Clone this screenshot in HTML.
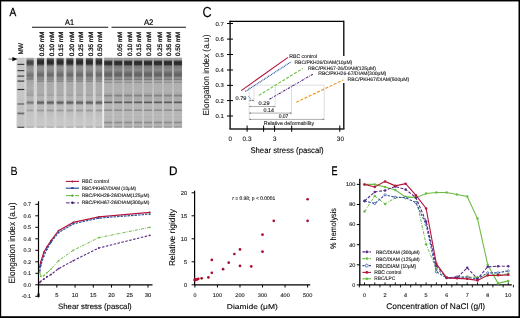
<!DOCTYPE html>
<html><head><meta charset="utf-8"><style>
html,body{margin:0;padding:0;background:#fff;}
svg{display:block;font-family:"Liberation Sans", sans-serif;will-change:transform;filter:blur(0.35px);text-rendering:geometricPrecision;}
</style></head><body>
<svg width="520" height="318" viewBox="0 0 520 318">
<rect x="0" y="0" width="520" height="318" fill="#fff"/>
<text x="9.52" y="16.45" font-size="11.636" textLength="6.75" lengthAdjust="spacingAndGlyphs" fill="#000"  stroke="#000" stroke-width="0.3">A</text>
<text x="65.08" y="24.70" font-size="8.145" textLength="8.97" lengthAdjust="spacingAndGlyphs" fill="#000"  stroke="#000" stroke-width="0.2">A1</text>
<text x="143.88" y="24.70" font-size="8.172" textLength="9.51" lengthAdjust="spacingAndGlyphs" fill="#000"  stroke="#000" stroke-width="0.2">A2</text>
<line x1="32.00" y1="27.30" x2="108.20" y2="27.30" stroke="#111" stroke-width="1.1" />
<line x1="111.50" y1="27.30" x2="185.90" y2="27.30" stroke="#111" stroke-width="1.1" />
<text transform="translate(43.99,56.30) rotate(-90)" x="0" y="0" font-size="6.360" textLength="24.68" lengthAdjust="spacingAndGlyphs" fill="#111"  stroke="#111" stroke-width="0.3">0.05 mM</text>
<text transform="translate(53.54,56.30) rotate(-90)" x="0" y="0" font-size="6.360" textLength="24.68" lengthAdjust="spacingAndGlyphs" fill="#111"  stroke="#111" stroke-width="0.3">0.10 mM</text>
<text transform="translate(63.34,56.30) rotate(-90)" x="0" y="0" font-size="6.360" textLength="24.68" lengthAdjust="spacingAndGlyphs" fill="#111"  stroke="#111" stroke-width="0.3">0.15 mM</text>
<text transform="translate(73.69,56.30) rotate(-90)" x="0" y="0" font-size="6.360" textLength="24.68" lengthAdjust="spacingAndGlyphs" fill="#111"  stroke="#111" stroke-width="0.3">0.20 mM</text>
<text transform="translate(83.04,56.30) rotate(-90)" x="0" y="0" font-size="6.360" textLength="24.68" lengthAdjust="spacingAndGlyphs" fill="#111"  stroke="#111" stroke-width="0.3">0.25 mM</text>
<text transform="translate(92.59,56.30) rotate(-90)" x="0" y="0" font-size="6.360" textLength="24.68" lengthAdjust="spacingAndGlyphs" fill="#111"  stroke="#111" stroke-width="0.3">0.35 mM</text>
<text transform="translate(102.39,56.30) rotate(-90)" x="0" y="0" font-size="6.360" textLength="24.68" lengthAdjust="spacingAndGlyphs" fill="#111"  stroke="#111" stroke-width="0.3">0.50 mM</text>
<text transform="translate(122.09,56.10) rotate(-90)" x="0" y="0" font-size="6.360" textLength="24.47" lengthAdjust="spacingAndGlyphs" fill="#111"  stroke="#111" stroke-width="0.3">0.05 mM</text>
<text transform="translate(131.69,56.10) rotate(-90)" x="0" y="0" font-size="6.360" textLength="24.47" lengthAdjust="spacingAndGlyphs" fill="#111"  stroke="#111" stroke-width="0.3">0.10 mM</text>
<text transform="translate(141.39,56.10) rotate(-90)" x="0" y="0" font-size="6.360" textLength="24.47" lengthAdjust="spacingAndGlyphs" fill="#111"  stroke="#111" stroke-width="0.3">0.15 mM</text>
<text transform="translate(151.49,56.10) rotate(-90)" x="0" y="0" font-size="6.360" textLength="24.47" lengthAdjust="spacingAndGlyphs" fill="#111"  stroke="#111" stroke-width="0.3">0.20 mM</text>
<text transform="translate(161.59,56.10) rotate(-90)" x="0" y="0" font-size="6.360" textLength="24.47" lengthAdjust="spacingAndGlyphs" fill="#111"  stroke="#111" stroke-width="0.3">0.25 mM</text>
<text transform="translate(170.79,56.10) rotate(-90)" x="0" y="0" font-size="6.360" textLength="24.47" lengthAdjust="spacingAndGlyphs" fill="#111"  stroke="#111" stroke-width="0.3">0.35 mM</text>
<text transform="translate(180.29,56.10) rotate(-90)" x="0" y="0" font-size="6.360" textLength="24.47" lengthAdjust="spacingAndGlyphs" fill="#111"  stroke="#111" stroke-width="0.3">0.50 mM</text>
<text transform="translate(23.07,54.40) rotate(-90)" x="0" y="0" font-size="6.764" textLength="11.41" lengthAdjust="spacingAndGlyphs" fill="#111"  stroke="#111" stroke-width="0.25">MW</text>
<defs>
<linearGradient id="g1" gradientUnits="userSpaceOnUse" x1="0" y1="57.8" x2="0" y2="127.7">
<stop offset="0.0000" stop-color="rgb(175,175,175)"/>
<stop offset="0.0100" stop-color="rgb(115,115,115)"/>
<stop offset="0.0315" stop-color="rgb(60,60,60)"/>
<stop offset="0.0601" stop-color="rgb(40,40,40)"/>
<stop offset="0.0887" stop-color="rgb(50,50,50)"/>
<stop offset="0.1102" stop-color="rgb(115,115,115)"/>
<stop offset="0.1316" stop-color="rgb(145,145,145)"/>
<stop offset="0.1745" stop-color="rgb(142,142,142)"/>
<stop offset="0.2031" stop-color="rgb(128,128,128)"/>
<stop offset="0.2318" stop-color="rgb(108,108,108)"/>
<stop offset="0.2604" stop-color="rgb(108,108,108)"/>
<stop offset="0.2790" stop-color="rgb(135,135,135)"/>
<stop offset="0.2933" stop-color="rgb(145,145,145)"/>
<stop offset="0.3033" stop-color="rgb(115,115,115)"/>
<stop offset="0.3176" stop-color="rgb(160,160,160)"/>
<stop offset="0.3362" stop-color="rgb(130,130,130)"/>
<stop offset="0.3534" stop-color="rgb(170,170,170)"/>
<stop offset="0.4320" stop-color="rgb(172,172,172)"/>
<stop offset="0.5179" stop-color="rgb(172,172,172)"/>
<stop offset="0.5365" stop-color="rgb(158,158,158)"/>
<stop offset="0.5536" stop-color="rgb(178,178,178)"/>
<stop offset="0.6037" stop-color="rgb(183,183,183)"/>
<stop offset="0.6252" stop-color="rgb(130,130,130)"/>
<stop offset="0.6438" stop-color="rgb(85,85,85)"/>
<stop offset="0.6609" stop-color="rgb(140,140,140)"/>
<stop offset="0.6753" stop-color="rgb(185,185,185)"/>
<stop offset="0.7325" stop-color="rgb(188,188,188)"/>
<stop offset="0.7539" stop-color="rgb(150,150,150)"/>
<stop offset="0.7754" stop-color="rgb(190,190,190)"/>
<stop offset="0.8898" stop-color="rgb(198,198,198)"/>
<stop offset="0.9757" stop-color="rgb(200,200,200)"/>
<stop offset="0.9900" stop-color="rgb(170,170,170)"/>
<stop offset="1.0000" stop-color="rgb(170,170,170)"/>
</linearGradient>
<linearGradient id="g0" gradientUnits="userSpaceOnUse" x1="0" y1="57.8" x2="0" y2="127.7">
<stop offset="0.0000" stop-color="rgb(190,190,190)"/>
<stop offset="0.0243" stop-color="rgb(140,140,140)"/>
<stop offset="0.0458" stop-color="rgb(80,80,80)"/>
<stop offset="0.0744" stop-color="rgb(65,65,65)"/>
<stop offset="0.1030" stop-color="rgb(95,95,95)"/>
<stop offset="0.1245" stop-color="rgb(145,145,145)"/>
<stop offset="0.1745" stop-color="rgb(155,155,155)"/>
<stop offset="0.2175" stop-color="rgb(130,130,130)"/>
<stop offset="0.2532" stop-color="rgb(115,115,115)"/>
<stop offset="0.2890" stop-color="rgb(140,140,140)"/>
<stop offset="0.3033" stop-color="rgb(120,120,120)"/>
<stop offset="0.3247" stop-color="rgb(165,165,165)"/>
<stop offset="0.4320" stop-color="rgb(175,175,175)"/>
<stop offset="0.5179" stop-color="rgb(165,165,165)"/>
<stop offset="0.5365" stop-color="rgb(155,155,155)"/>
<stop offset="0.5536" stop-color="rgb(178,178,178)"/>
<stop offset="0.6037" stop-color="rgb(185,185,185)"/>
<stop offset="0.6252" stop-color="rgb(150,150,150)"/>
<stop offset="0.6438" stop-color="rgb(110,110,110)"/>
<stop offset="0.6609" stop-color="rgb(160,160,160)"/>
<stop offset="0.6753" stop-color="rgb(190,190,190)"/>
<stop offset="0.7325" stop-color="rgb(190,190,190)"/>
<stop offset="0.7539" stop-color="rgb(160,160,160)"/>
<stop offset="0.7754" stop-color="rgb(195,195,195)"/>
<stop offset="0.9757" stop-color="rgb(200,200,200)"/>
<stop offset="0.9900" stop-color="rgb(170,170,170)"/>
<stop offset="1.0000" stop-color="rgb(170,170,170)"/>
</linearGradient>
<linearGradient id="g2" gradientUnits="userSpaceOnUse" x1="0" y1="57.8" x2="0" y2="127.7">
<stop offset="0.0000" stop-color="rgb(160,160,160)"/>
<stop offset="0.0215" stop-color="rgb(165,165,165)"/>
<stop offset="0.0358" stop-color="rgb(125,125,125)"/>
<stop offset="0.0486" stop-color="rgb(65,65,65)"/>
<stop offset="0.0672" stop-color="rgb(42,42,42)"/>
<stop offset="0.0959" stop-color="rgb(50,50,50)"/>
<stop offset="0.1173" stop-color="rgb(120,120,120)"/>
<stop offset="0.1745" stop-color="rgb(138,138,138)"/>
<stop offset="0.2031" stop-color="rgb(118,118,118)"/>
<stop offset="0.2318" stop-color="rgb(98,98,98)"/>
<stop offset="0.2604" stop-color="rgb(102,102,102)"/>
<stop offset="0.2818" stop-color="rgb(138,138,138)"/>
<stop offset="0.2961" stop-color="rgb(142,142,142)"/>
<stop offset="0.3076" stop-color="rgb(110,110,110)"/>
<stop offset="0.3205" stop-color="rgb(160,160,160)"/>
<stop offset="0.3391" stop-color="rgb(166,166,166)"/>
<stop offset="0.3505" stop-color="rgb(135,135,135)"/>
<stop offset="0.3634" stop-color="rgb(176,176,176)"/>
<stop offset="0.4893" stop-color="rgb(178,178,178)"/>
<stop offset="0.5250" stop-color="rgb(160,160,160)"/>
<stop offset="0.5422" stop-color="rgb(125,125,125)"/>
<stop offset="0.5608" stop-color="rgb(170,170,170)"/>
<stop offset="0.6180" stop-color="rgb(172,172,172)"/>
<stop offset="0.6366" stop-color="rgb(75,75,75)"/>
<stop offset="0.6538" stop-color="rgb(160,160,160)"/>
<stop offset="0.6681" stop-color="rgb(182,182,182)"/>
<stop offset="0.7325" stop-color="rgb(180,180,180)"/>
<stop offset="0.7511" stop-color="rgb(130,130,130)"/>
<stop offset="0.7682" stop-color="rgb(183,183,183)"/>
<stop offset="0.8326" stop-color="rgb(185,185,185)"/>
<stop offset="0.8469" stop-color="rgb(175,175,175)"/>
<stop offset="0.8612" stop-color="rgb(186,186,186)"/>
<stop offset="0.9041" stop-color="rgb(180,180,180)"/>
<stop offset="0.9256" stop-color="rgb(140,140,140)"/>
<stop offset="0.9471" stop-color="rgb(175,175,175)"/>
<stop offset="0.9614" stop-color="rgb(185,185,185)"/>
<stop offset="0.9757" stop-color="rgb(170,170,170)"/>
<stop offset="0.9900" stop-color="rgb(150,150,150)"/>
<stop offset="1.0000" stop-color="rgb(160,160,160)"/>
</linearGradient>
<linearGradient id="gmw" gradientUnits="userSpaceOnUse" x1="0" y1="57.8" x2="0" y2="127.7">
<stop offset="0.0000" stop-color="rgb(205,205,205)"/>
<stop offset="0.0787" stop-color="rgb(200,200,200)"/>
<stop offset="0.0944" stop-color="rgb(50,50,50)"/>
<stop offset="0.1102" stop-color="rgb(200,200,200)"/>
<stop offset="0.1674" stop-color="rgb(200,200,200)"/>
<stop offset="0.1831" stop-color="rgb(55,55,55)"/>
<stop offset="0.1989" stop-color="rgb(200,200,200)"/>
<stop offset="0.2461" stop-color="rgb(200,200,200)"/>
<stop offset="0.2618" stop-color="rgb(50,50,50)"/>
<stop offset="0.2775" stop-color="rgb(200,200,200)"/>
<stop offset="0.3176" stop-color="rgb(200,200,200)"/>
<stop offset="0.3333" stop-color="rgb(45,45,45)"/>
<stop offset="0.3491" stop-color="rgb(200,200,200)"/>
<stop offset="0.4378" stop-color="rgb(200,200,200)"/>
<stop offset="0.4535" stop-color="rgb(45,45,45)"/>
<stop offset="0.4692" stop-color="rgb(200,200,200)"/>
<stop offset="0.6409" stop-color="rgb(195,195,195)"/>
<stop offset="0.6609" stop-color="rgb(100,100,100)"/>
<stop offset="0.6810" stop-color="rgb(195,195,195)"/>
<stop offset="0.7725" stop-color="rgb(195,195,195)"/>
<stop offset="0.7954" stop-color="rgb(105,105,105)"/>
<stop offset="0.8183" stop-color="rgb(195,195,195)"/>
<stop offset="0.9800" stop-color="rgb(198,198,198)"/>
<stop offset="0.9914" stop-color="rgb(35,35,35)"/>
<stop offset="1.0000" stop-color="rgb(40,40,40)"/>
</linearGradient>
<linearGradient id="gbg" gradientUnits="userSpaceOnUse" x1="0" y1="57.8" x2="0" y2="127.7">
<stop offset="0.0000" stop-color="rgb(214,214,214)"/>
<stop offset="0.6037" stop-color="rgb(212,212,212)"/>
<stop offset="1.0000" stop-color="rgb(206,206,206)"/>
</linearGradient>
<linearGradient id="gbg2" gradientUnits="userSpaceOnUse" x1="0" y1="57.8" x2="0" y2="127.7">
<stop offset="0.0000" stop-color="rgb(165,165,165)"/>
<stop offset="0.0315" stop-color="rgb(165,165,165)"/>
<stop offset="0.0601" stop-color="rgb(172,172,172)"/>
<stop offset="0.1745" stop-color="rgb(182,182,182)"/>
<stop offset="0.3176" stop-color="rgb(190,190,190)"/>
<stop offset="0.6037" stop-color="rgb(198,198,198)"/>
<stop offset="1.0000" stop-color="rgb(200,200,200)"/>
</linearGradient>
</defs>
<rect x="16.5" y="57.8" width="86" height="69.9" fill="url(#gbg)"/>
<rect x="104.2" y="57.8" width="77.9" height="69.9" fill="url(#gbg2)"/>
<rect x="17.4" y="57.8" width="6.9" height="69.9" fill="url(#gmw)"/>
<rect x="26.5" y="57.8" width="7.2" height="69.9" fill="url(#g0)"/>
<rect x="37.00" y="57.8" width="7.1" height="69.9" fill="url(#g1)"/>
<rect x="46.77" y="57.8" width="7.1" height="69.9" fill="url(#g1)"/>
<rect x="56.54" y="57.8" width="7.1" height="69.9" fill="url(#g1)"/>
<rect x="66.31" y="57.8" width="7.1" height="69.9" fill="url(#g1)"/>
<rect x="76.08" y="57.8" width="7.1" height="69.9" fill="url(#g1)"/>
<rect x="85.85" y="57.8" width="7.1" height="69.9" fill="url(#g1)"/>
<rect x="95.62" y="57.8" width="7.1" height="69.9" fill="url(#g1)"/>
<rect x="102.3" y="57.8" width="1.9" height="69.9" fill="rgb(236,236,236)"/>
<rect x="104.20" y="57.8" width="8.1" height="69.9" fill="url(#g2)"/>
<rect x="114.15" y="57.8" width="8.1" height="69.9" fill="url(#g2)"/>
<rect x="124.10" y="57.8" width="8.1" height="69.9" fill="url(#g2)"/>
<rect x="134.05" y="57.8" width="8.1" height="69.9" fill="url(#g2)"/>
<rect x="144.00" y="57.8" width="8.1" height="69.9" fill="url(#g2)"/>
<rect x="153.95" y="57.8" width="8.1" height="69.9" fill="url(#g2)"/>
<rect x="163.90" y="57.8" width="8.1" height="69.9" fill="url(#g2)"/>
<rect x="173.85" y="57.8" width="8.1" height="69.9" fill="url(#g2)"/>
<line x1="8.50" y1="59.10" x2="13.50" y2="59.10" stroke="#444" stroke-width="0.8" />
<path d="M12.4,57.0 L17.6,59.1 L12.4,61.2 Z" fill="#000"/>
<text x="10.45" y="174.57" font-size="12.000" textLength="7.08" lengthAdjust="spacingAndGlyphs" fill="#000"  stroke="#000" stroke-width="0.05">B</text>
<line x1="38.50" y1="201.30" x2="38.50" y2="297.50" stroke="#000" stroke-width="1.2" />
<line x1="37.90" y1="284.80" x2="152.50" y2="284.80" stroke="#000" stroke-width="1.2" />
<line x1="35.30" y1="204.30" x2="38.50" y2="204.30" stroke="#000" stroke-width="1" />
<text x="23.55" y="206.14" font-size="5.343" textLength="7.53" lengthAdjust="spacingAndGlyphs" fill="#222"  stroke="#222" stroke-width="0.12">0.7</text>
<line x1="35.30" y1="215.80" x2="38.50" y2="215.80" stroke="#000" stroke-width="1" />
<text x="23.50" y="217.64" font-size="5.343" textLength="7.54" lengthAdjust="spacingAndGlyphs" fill="#222"  stroke="#222" stroke-width="0.12">0.6</text>
<line x1="35.30" y1="227.30" x2="38.50" y2="227.30" stroke="#000" stroke-width="1" />
<text x="23.49" y="229.14" font-size="5.343" textLength="7.54" lengthAdjust="spacingAndGlyphs" fill="#222"  stroke="#222" stroke-width="0.12">0.5</text>
<line x1="35.30" y1="238.80" x2="38.50" y2="238.80" stroke="#000" stroke-width="1" />
<text x="23.42" y="240.64" font-size="5.343" textLength="7.54" lengthAdjust="spacingAndGlyphs" fill="#222"  stroke="#222" stroke-width="0.12">0.4</text>
<line x1="35.30" y1="250.30" x2="38.50" y2="250.30" stroke="#000" stroke-width="1" />
<text x="23.50" y="252.14" font-size="5.343" textLength="7.54" lengthAdjust="spacingAndGlyphs" fill="#222"  stroke="#222" stroke-width="0.12">0.3</text>
<line x1="35.30" y1="261.80" x2="38.50" y2="261.80" stroke="#000" stroke-width="1" />
<text x="23.55" y="263.64" font-size="5.343" textLength="7.53" lengthAdjust="spacingAndGlyphs" fill="#222"  stroke="#222" stroke-width="0.12">0.2</text>
<line x1="35.30" y1="273.30" x2="38.50" y2="273.30" stroke="#000" stroke-width="1" />
<text x="23.53" y="275.14" font-size="5.343" textLength="7.54" lengthAdjust="spacingAndGlyphs" fill="#222"  stroke="#222" stroke-width="0.12">0.1</text>
<line x1="35.30" y1="284.80" x2="38.50" y2="284.80" stroke="#000" stroke-width="1" />
<text x="23.48" y="286.64" font-size="5.343" textLength="7.54" lengthAdjust="spacingAndGlyphs" fill="#222"  stroke="#222" stroke-width="0.12">0.0</text>
<line x1="35.30" y1="296.30" x2="38.50" y2="296.30" stroke="#000" stroke-width="1" />
<text x="21.67" y="298.14" font-size="5.343" textLength="9.37" lengthAdjust="spacingAndGlyphs" fill="#222"  stroke="#222" stroke-width="0.12">-0.1</text>
<line x1="38.60" y1="284.80" x2="38.60" y2="287.60" stroke="#000" stroke-width="1" />
<text x="37.02" y="296.98" font-size="5.767" textLength="3.16" lengthAdjust="spacingAndGlyphs" fill="#222"  stroke="#222" stroke-width="0.12">0</text>
<line x1="56.84" y1="284.80" x2="56.84" y2="287.60" stroke="#000" stroke-width="1" />
<text x="55.23" y="296.98" font-size="5.849" textLength="3.21" lengthAdjust="spacingAndGlyphs" fill="#222"  stroke="#222" stroke-width="0.12">5</text>
<line x1="75.07" y1="284.80" x2="75.07" y2="287.60" stroke="#000" stroke-width="1" />
<text x="71.73" y="296.98" font-size="5.767" textLength="6.47" lengthAdjust="spacingAndGlyphs" fill="#222"  stroke="#222" stroke-width="0.12">10</text>
<line x1="93.31" y1="284.80" x2="93.31" y2="287.60" stroke="#000" stroke-width="1" />
<text x="89.93" y="296.98" font-size="5.849" textLength="6.56" lengthAdjust="spacingAndGlyphs" fill="#222"  stroke="#222" stroke-width="0.12">15</text>
<line x1="111.54" y1="284.80" x2="111.54" y2="287.60" stroke="#000" stroke-width="1" />
<text x="108.27" y="296.98" font-size="5.767" textLength="6.47" lengthAdjust="spacingAndGlyphs" fill="#222"  stroke="#222" stroke-width="0.12">20</text>
<line x1="129.78" y1="284.80" x2="129.78" y2="287.60" stroke="#000" stroke-width="1" />
<text x="126.52" y="296.98" font-size="5.767" textLength="6.47" lengthAdjust="spacingAndGlyphs" fill="#222"  stroke="#222" stroke-width="0.12">25</text>
<line x1="148.01" y1="284.80" x2="148.01" y2="287.60" stroke="#000" stroke-width="1" />
<text x="144.78" y="296.98" font-size="5.767" textLength="6.47" lengthAdjust="spacingAndGlyphs" fill="#222"  stroke="#222" stroke-width="0.12">30</text>
<text transform="translate(15.47,283.46) rotate(-90)" x="0" y="0" font-size="9.169" textLength="80.95" lengthAdjust="spacingAndGlyphs" fill="#000"  stroke="#000" stroke-width="0.05">Elongation index (a.u)</text>
<text x="58.00" y="308.53" font-size="7.828" textLength="73.72" lengthAdjust="spacingAndGlyphs" fill="#000"  stroke="#000" stroke-width="0.1">Shear stress (pascal)</text>
<polyline points="39.69,266.98 40.79,261.80 43.82,252.26 46.99,246.85 51.04,240.64 58.55,230.64 73.28,222.36 98.78,216.95 149.83,212.35" fill="none" stroke="#b5163c" stroke-width="1.2" />
<circle cx="39.69" cy="266.98" r="0.9" fill="#b5163c"/>
<circle cx="40.79" cy="261.80" r="0.9" fill="#b5163c"/>
<circle cx="43.82" cy="252.26" r="0.9" fill="#b5163c"/>
<circle cx="46.99" cy="246.85" r="0.9" fill="#b5163c"/>
<circle cx="51.04" cy="240.64" r="0.9" fill="#b5163c"/>
<circle cx="58.55" cy="230.64" r="0.9" fill="#b5163c"/>
<circle cx="73.28" cy="222.36" r="0.9" fill="#b5163c"/>
<circle cx="98.78" cy="216.95" r="0.9" fill="#b5163c"/>
<circle cx="149.83" cy="212.35" r="0.9" fill="#b5163c"/>
<polyline points="39.69,271.00 40.79,265.25 43.82,256.05 46.99,249.15 51.04,242.25 58.55,232.48 73.28,223.85 98.78,218.10 149.83,214.08" fill="none" stroke="#30529b" stroke-width="1.2" stroke-dasharray="2.5,1"/>
<circle cx="39.69" cy="271.00" r="0.9" fill="#30529b"/>
<circle cx="40.79" cy="265.25" r="0.9" fill="#30529b"/>
<circle cx="43.82" cy="256.05" r="0.9" fill="#30529b"/>
<circle cx="46.99" cy="249.15" r="0.9" fill="#30529b"/>
<circle cx="51.04" cy="242.25" r="0.9" fill="#30529b"/>
<circle cx="58.55" cy="232.48" r="0.9" fill="#30529b"/>
<circle cx="73.28" cy="223.85" r="0.9" fill="#30529b"/>
<circle cx="98.78" cy="218.10" r="0.9" fill="#30529b"/>
<circle cx="149.83" cy="214.08" r="0.9" fill="#30529b"/>
<polyline points="39.69,272.15 40.79,276.18 43.82,275.60 46.99,272.73 51.04,269.05 58.55,260.65 73.28,250.30 98.78,237.65 149.83,227.30" fill="none" stroke="#6cbd45" stroke-width="1.0" stroke-dasharray="3,1.2,0.8,1.2"/>
<circle cx="39.69" cy="272.15" r="0.9" fill="#6cbd45"/>
<circle cx="40.79" cy="276.18" r="0.9" fill="#6cbd45"/>
<circle cx="43.82" cy="275.60" r="0.9" fill="#6cbd45"/>
<circle cx="46.99" cy="272.73" r="0.9" fill="#6cbd45"/>
<circle cx="51.04" cy="269.05" r="0.9" fill="#6cbd45"/>
<circle cx="58.55" cy="260.65" r="0.9" fill="#6cbd45"/>
<circle cx="73.28" cy="250.30" r="0.9" fill="#6cbd45"/>
<circle cx="98.78" cy="237.65" r="0.9" fill="#6cbd45"/>
<circle cx="149.83" cy="227.30" r="0.9" fill="#6cbd45"/>
<polyline points="39.69,282.50 40.79,281.35 43.82,279.05 46.99,276.75 51.04,274.45 58.55,268.70 73.28,260.65 98.78,248.00 149.83,235.35" fill="none" stroke="#5c2d86" stroke-width="1.1" stroke-dasharray="2.5,1.5"/>
<circle cx="39.69" cy="282.50" r="0.9" fill="#5c2d86"/>
<circle cx="40.79" cy="281.35" r="0.9" fill="#5c2d86"/>
<circle cx="43.82" cy="279.05" r="0.9" fill="#5c2d86"/>
<circle cx="46.99" cy="276.75" r="0.9" fill="#5c2d86"/>
<circle cx="51.04" cy="274.45" r="0.9" fill="#5c2d86"/>
<circle cx="58.55" cy="268.70" r="0.9" fill="#5c2d86"/>
<circle cx="73.28" cy="260.65" r="0.9" fill="#5c2d86"/>
<circle cx="98.78" cy="248.00" r="0.9" fill="#5c2d86"/>
<circle cx="149.83" cy="235.35" r="0.9" fill="#5c2d86"/>
<line x1="65.80" y1="181.40" x2="79.00" y2="181.40" stroke="#b5163c" stroke-width="1.1" />
<circle cx="72.4" cy="181.4" r="1.0" fill="#b5163c"/>
<text x="81.64" y="182.99" font-size="5.279" textLength="27.45" lengthAdjust="spacingAndGlyphs" fill="#222"  stroke="#222" stroke-width="0.12">RBC control</text>
<line x1="65.80" y1="188.20" x2="79.00" y2="188.20" stroke="#30529b" stroke-width="1.2" />
<ellipse cx="72.4" cy="188.2" rx="1.6" ry="0.9" fill="#233f80"/>
<text x="81.68" y="190.47" font-size="4.871" textLength="54.34" lengthAdjust="spacingAndGlyphs" fill="#222"  stroke="#222" stroke-width="0.12">RBC/PKH67/DIAM (10μM)</text>
<line x1="66.00" y1="195.60" x2="71.20" y2="195.60" stroke="#6cbd45" stroke-width="1.1" />
<line x1="75.00" y1="195.60" x2="79.00" y2="195.60" stroke="#6cbd45" stroke-width="1.1" />
<circle cx="72.4" cy="195.6" r="1.2" fill="#4f9a2c"/>
<text x="81.65" y="197.47" font-size="4.871" textLength="67.69" lengthAdjust="spacingAndGlyphs" fill="#222"  stroke="#222" stroke-width="0.12">RBC/PKH26-26/DIAM(125μM)</text>
<line x1="66.00" y1="202.80" x2="69.70" y2="202.80" stroke="#7a5a9e" stroke-width="1.3" />
<line x1="73.50" y1="202.80" x2="75.20" y2="202.80" stroke="#7a5a9e" stroke-width="1.3" />
<line x1="77.20" y1="202.80" x2="79.00" y2="202.80" stroke="#7a5a9e" stroke-width="1.3" />
<circle cx="72.4" cy="202.8" r="1.3" fill="#3a1660"/>
<text x="81.65" y="204.37" font-size="4.871" textLength="67.69" lengthAdjust="spacingAndGlyphs" fill="#222"  stroke="#222" stroke-width="0.12">RBC/PKH67-26/DIAM(300μM)</text>
<text x="202.44" y="16.88" font-size="14.488" textLength="9.16" lengthAdjust="spacingAndGlyphs" fill="#000"  stroke="#000" stroke-width="0.15">C</text>
<line x1="230.10" y1="20.80" x2="230.10" y2="129.00" stroke="#000" stroke-width="1.3" />
<line x1="229.40" y1="21.40" x2="343.80" y2="21.40" stroke="#000" stroke-width="1.15" />
<line x1="343.80" y1="20.80" x2="343.80" y2="56.00" stroke="#000" stroke-width="1.3" />
<line x1="343.80" y1="83.00" x2="343.80" y2="129.00" stroke="#000" stroke-width="1.3" />
<line x1="229.40" y1="128.95" x2="344.40" y2="128.95" stroke="#222" stroke-width="1.6" />
<line x1="227.00" y1="23.50" x2="233.00" y2="23.50" stroke="#000" stroke-width="1" />
<text x="215.52" y="25.58" font-size="5.767" textLength="8.32" lengthAdjust="spacingAndGlyphs" fill="#222"  stroke="#222" stroke-width="0.12">0.7</text>
<line x1="227.00" y1="39.10" x2="233.00" y2="39.10" stroke="#000" stroke-width="1" />
<text x="215.52" y="41.18" font-size="5.767" textLength="8.27" lengthAdjust="spacingAndGlyphs" fill="#222"  stroke="#222" stroke-width="0.12">0.6</text>
<line x1="227.00" y1="54.50" x2="233.00" y2="54.50" stroke="#000" stroke-width="1" />
<text x="215.52" y="56.58" font-size="5.767" textLength="8.26" lengthAdjust="spacingAndGlyphs" fill="#222"  stroke="#222" stroke-width="0.12">0.5</text>
<line x1="227.00" y1="70.00" x2="233.00" y2="70.00" stroke="#000" stroke-width="1" />
<text x="215.52" y="72.08" font-size="5.767" textLength="8.18" lengthAdjust="spacingAndGlyphs" fill="#222"  stroke="#222" stroke-width="0.12">0.4</text>
<line x1="227.00" y1="85.40" x2="233.00" y2="85.40" stroke="#000" stroke-width="1" />
<text x="215.52" y="87.48" font-size="5.767" textLength="8.27" lengthAdjust="spacingAndGlyphs" fill="#222"  stroke="#222" stroke-width="0.12">0.3</text>
<line x1="227.00" y1="100.60" x2="233.00" y2="100.60" stroke="#000" stroke-width="1" />
<text x="215.52" y="102.68" font-size="5.767" textLength="8.32" lengthAdjust="spacingAndGlyphs" fill="#222"  stroke="#222" stroke-width="0.12">0.2</text>
<line x1="227.00" y1="116.00" x2="233.00" y2="116.00" stroke="#000" stroke-width="1" />
<text x="215.52" y="118.08" font-size="5.767" textLength="8.30" lengthAdjust="spacingAndGlyphs" fill="#222"  stroke="#222" stroke-width="0.12">0.1</text>
<line x1="247.10" y1="125.50" x2="247.10" y2="131.80" stroke="#000" stroke-width="1" />
<line x1="263.60" y1="125.50" x2="263.60" y2="131.80" stroke="#000" stroke-width="1" />
<line x1="274.60" y1="125.50" x2="274.60" y2="131.80" stroke="#000" stroke-width="1" />
<line x1="291.70" y1="125.50" x2="291.70" y2="131.80" stroke="#000" stroke-width="1" />
<line x1="339.80" y1="125.50" x2="339.80" y2="131.80" stroke="#000" stroke-width="1" />
<text x="228.45" y="140.79" font-size="6.360" textLength="3.50" lengthAdjust="spacingAndGlyphs" fill="#222"  stroke="#222" stroke-width="0.1">0</text>
<text x="242.54" y="140.79" font-size="6.360" textLength="8.93" lengthAdjust="spacingAndGlyphs" fill="#222"  stroke="#222" stroke-width="0.1">0.3</text>
<text x="272.97" y="140.79" font-size="6.360" textLength="3.50" lengthAdjust="spacingAndGlyphs" fill="#222"  stroke="#222" stroke-width="0.1">3</text>
<text x="336.85" y="140.79" font-size="6.360" textLength="7.12" lengthAdjust="spacingAndGlyphs" fill="#222"  stroke="#222" stroke-width="0.1">30</text>
<text transform="translate(209.16,115.46) rotate(-90)" x="0" y="0" font-size="8.740" textLength="80.95" lengthAdjust="spacingAndGlyphs" fill="#000"  stroke="#000" stroke-width="0.05">Elongation index (a.u)</text>
<text x="250.40" y="153.16" font-size="8.150" textLength="73.22" lengthAdjust="spacingAndGlyphs" fill="#000"  stroke="#000" stroke-width="0.1">Shear stress (pascal)</text>
<line x1="249.2" y1="85.2" x2="324.2" y2="85.2" stroke="#b4b4b4" stroke-width="0.7" stroke-dasharray="1,0.6"/>
<line x1="249.2" y1="85.2" x2="249.2" y2="120.4" stroke="#b4b4b4" stroke-width="0.7" stroke-dasharray="1,0.6"/>
<line x1="254.0" y1="85.2" x2="254.0" y2="103.0" stroke="#b4b4b4" stroke-width="0.7" stroke-dasharray="1,0.6"/>
<line x1="275.2" y1="85.2" x2="275.2" y2="107.0" stroke="#b4b4b4" stroke-width="0.7" stroke-dasharray="1,0.6"/>
<line x1="291.5" y1="85.2" x2="291.5" y2="114.6" stroke="#b4b4b4" stroke-width="0.7" stroke-dasharray="1,0.6"/>
<line x1="324.2" y1="85.2" x2="324.2" y2="120.4" stroke="#b4b4b4" stroke-width="0.7" stroke-dasharray="1,0.6"/>
<line x1="249.2" y1="100.4" x2="254.0" y2="100.4" stroke="#777" stroke-width="0.6"/>
<path d="M249.2,100.4 l1.6,-0.8 v1.6 Z M254.0,100.4 l-1.6,-0.8 v1.6 Z" fill="#777"/>
<line x1="249.2" y1="106.5" x2="275.2" y2="106.5" stroke="#777" stroke-width="0.6"/>
<path d="M249.2,106.5 l1.6,-0.8 v1.6 Z M275.2,106.5 l-1.6,-0.8 v1.6 Z" fill="#777"/>
<line x1="249.2" y1="113.1" x2="291.5" y2="113.1" stroke="#777" stroke-width="0.6"/>
<path d="M249.2,113.1 l1.6,-0.8 v1.6 Z M291.5,113.1 l-1.6,-0.8 v1.6 Z" fill="#777"/>
<line x1="249.2" y1="119.4" x2="324.2" y2="119.4" stroke="#777" stroke-width="0.6"/>
<path d="M249.2,119.4 l1.6,-0.8 v1.6 Z M324.2,119.4 l-1.6,-0.8 v1.6 Z" fill="#777"/>
<text x="235.64" y="100.19" font-size="5.484" textLength="10.86" lengthAdjust="spacingAndGlyphs" fill="#222"  stroke="#222" stroke-width="0.12">0.79</text>
<text x="258.63" y="105.39" font-size="5.484" textLength="10.97" lengthAdjust="spacingAndGlyphs" fill="#222"  stroke="#222" stroke-width="0.12">0.29</text>
<text x="263.55" y="111.69" font-size="5.484" textLength="10.35" lengthAdjust="spacingAndGlyphs" fill="#222"  stroke="#222" stroke-width="0.12">0.14</text>
<text x="278.66" y="118.49" font-size="5.484" textLength="9.74" lengthAdjust="spacingAndGlyphs" fill="#222"  stroke="#222" stroke-width="0.12">0.07</text>
<text x="263.83" y="125.23" font-size="5.340" textLength="50.33" lengthAdjust="spacingAndGlyphs" fill="#222"  stroke="#222" stroke-width="0.12">Relative deformability</text>
<line x1="248.0" y1="96.0" x2="250.9" y2="98.9" stroke="#6aaee0" stroke-width="0.9"/>
<line x1="241.20" y1="90.60" x2="288.00" y2="57.40" stroke="#b5163c" stroke-width="1.15" />
<line x1="245.40" y1="91.40" x2="291.30" y2="61.70" stroke="#30529b" stroke-width="1.2" stroke-dasharray="1,0.7"/>
<line x1="258.80" y1="95.40" x2="302.90" y2="68.40" stroke="#6cbd45" stroke-width="1.1" stroke-dasharray="3,1.6"/>
<line x1="269.40" y1="99.30" x2="313.00" y2="74.10" stroke="#5c2d86" stroke-width="1.1" stroke-dasharray="2.5,1,0.8,1"/>
<line x1="296.30" y1="102.30" x2="343.30" y2="79.90" stroke="#f0962a" stroke-width="1.2" stroke-dasharray="3,1.6"/>
<text x="289.34" y="58.09" font-size="5.279" textLength="27.55" lengthAdjust="spacingAndGlyphs" fill="#222"  stroke="#222" stroke-width="0.12">RBC control</text>
<text x="294.45" y="63.50" font-size="5.019" textLength="57.80" lengthAdjust="spacingAndGlyphs" fill="#222"  stroke="#222" stroke-width="0.12">RBC/PKH26/DIAM(10μM)</text>
<text x="307.95" y="69.80" font-size="5.019" textLength="67.99" lengthAdjust="spacingAndGlyphs" fill="#222"  stroke="#222" stroke-width="0.12">RBC/PKH67-26/DIAM(125μM)</text>
<text x="318.25" y="75.20" font-size="5.019" textLength="67.99" lengthAdjust="spacingAndGlyphs" fill="#222"  stroke="#222" stroke-width="0.12">RBC/PKH26-67/DIAM(300μM)</text>
<text x="347.64" y="80.80" font-size="5.019" textLength="61.50" lengthAdjust="spacingAndGlyphs" fill="#222"  stroke="#222" stroke-width="0.12">RBC/PKH67/DIAM(500μM)</text>
<text x="169.06" y="174.68" font-size="12.291" textLength="8.47" lengthAdjust="spacingAndGlyphs" fill="#000"  stroke="#000" stroke-width="0.25">D</text>
<line x1="194.60" y1="190.70" x2="194.60" y2="284.80" stroke="#000" stroke-width="1.2" />
<line x1="194.00" y1="284.80" x2="310.20" y2="284.80" stroke="#000" stroke-width="1.2" />
<line x1="191.60" y1="284.80" x2="194.60" y2="284.80" stroke="#000" stroke-width="1" />
<text x="184.08" y="286.78" font-size="5.767" textLength="3.16" lengthAdjust="spacingAndGlyphs" fill="#222"  stroke="#222" stroke-width="0.12">0</text>
<line x1="191.60" y1="261.80" x2="194.60" y2="261.80" stroke="#000" stroke-width="1" />
<text x="184.07" y="263.78" font-size="5.849" textLength="3.21" lengthAdjust="spacingAndGlyphs" fill="#222"  stroke="#222" stroke-width="0.12">5</text>
<line x1="191.60" y1="238.80" x2="194.60" y2="238.80" stroke="#000" stroke-width="1" />
<text x="180.77" y="240.78" font-size="5.767" textLength="6.47" lengthAdjust="spacingAndGlyphs" fill="#222"  stroke="#222" stroke-width="0.12">10</text>
<line x1="191.60" y1="215.80" x2="194.60" y2="215.80" stroke="#000" stroke-width="1" />
<text x="180.74" y="217.78" font-size="5.849" textLength="6.56" lengthAdjust="spacingAndGlyphs" fill="#222"  stroke="#222" stroke-width="0.12">15</text>
<line x1="191.60" y1="192.80" x2="194.60" y2="192.80" stroke="#000" stroke-width="1" />
<text x="180.77" y="194.78" font-size="5.767" textLength="6.47" lengthAdjust="spacingAndGlyphs" fill="#222"  stroke="#222" stroke-width="0.12">20</text>
<line x1="194.90" y1="284.80" x2="194.90" y2="287.50" stroke="#000" stroke-width="1" />
<text x="193.39" y="296.59" font-size="5.484" textLength="3.00" lengthAdjust="spacingAndGlyphs" fill="#222"  stroke="#222" stroke-width="0.12">0</text>
<line x1="217.44" y1="284.80" x2="217.44" y2="287.50" stroke="#000" stroke-width="1" />
<text x="212.69" y="296.59" font-size="5.484" textLength="9.30" lengthAdjust="spacingAndGlyphs" fill="#222"  stroke="#222" stroke-width="0.12">100</text>
<line x1="239.98" y1="284.80" x2="239.98" y2="287.50" stroke="#000" stroke-width="1" />
<text x="235.29" y="296.59" font-size="5.484" textLength="9.31" lengthAdjust="spacingAndGlyphs" fill="#222"  stroke="#222" stroke-width="0.12">200</text>
<line x1="262.52" y1="284.80" x2="262.52" y2="287.50" stroke="#000" stroke-width="1" />
<text x="257.87" y="296.59" font-size="5.484" textLength="9.31" lengthAdjust="spacingAndGlyphs" fill="#222"  stroke="#222" stroke-width="0.12">300</text>
<line x1="285.06" y1="284.80" x2="285.06" y2="287.50" stroke="#000" stroke-width="1" />
<text x="280.45" y="296.59" font-size="5.484" textLength="9.31" lengthAdjust="spacingAndGlyphs" fill="#222"  stroke="#222" stroke-width="0.12">400</text>
<line x1="307.60" y1="284.80" x2="307.60" y2="287.50" stroke="#000" stroke-width="1" />
<text x="302.94" y="296.59" font-size="5.484" textLength="9.31" lengthAdjust="spacingAndGlyphs" fill="#222"  stroke="#222" stroke-width="0.12">500</text>
<text transform="translate(175.21,266.04) rotate(-90)" x="0" y="0" font-size="8.365" textLength="56.92" lengthAdjust="spacingAndGlyphs" fill="#000"  stroke="#000" stroke-width="0.1">Relative rigidity</text>
<text x="226.85" y="308.88" font-size="7.078" textLength="50.91" lengthAdjust="spacingAndGlyphs" fill="#000"  stroke="#000" stroke-width="0.1">Diamide (μM)</text>
<text x="232.24" y="199.97" font-size="5.153" textLength="42.94" lengthAdjust="spacingAndGlyphs" fill="#222"  stroke="#222" stroke-width="0.12">r = 0.98; p &lt; 0.0001</text>
<circle cx="194.90" cy="280.20" r="1.35" fill="#a8102f"/>
<circle cx="194.90" cy="279.28" r="1.35" fill="#a8102f"/>
<circle cx="196.03" cy="279.74" r="1.35" fill="#a8102f"/>
<circle cx="197.15" cy="279.28" r="1.35" fill="#a8102f"/>
<circle cx="198.28" cy="278.82" r="1.35" fill="#a8102f"/>
<circle cx="201.66" cy="278.36" r="1.35" fill="#a8102f"/>
<circle cx="208.42" cy="277.44" r="1.35" fill="#a8102f"/>
<circle cx="211.81" cy="272.84" r="1.35" fill="#a8102f"/>
<circle cx="211.81" cy="259.96" r="1.35" fill="#a8102f"/>
<circle cx="223.08" cy="269.16" r="1.35" fill="#a8102f"/>
<circle cx="228.71" cy="262.72" r="1.35" fill="#a8102f"/>
<circle cx="234.35" cy="253.98" r="1.35" fill="#a8102f"/>
<circle cx="239.98" cy="249.38" r="1.35" fill="#a8102f"/>
<circle cx="239.98" cy="265.94" r="1.35" fill="#a8102f"/>
<circle cx="251.25" cy="266.40" r="1.35" fill="#a8102f"/>
<circle cx="262.52" cy="234.66" r="1.35" fill="#a8102f"/>
<circle cx="262.52" cy="251.68" r="1.35" fill="#a8102f"/>
<circle cx="273.79" cy="220.86" r="1.35" fill="#a8102f"/>
<circle cx="307.60" cy="220.86" r="1.35" fill="#a8102f"/>
<circle cx="307.60" cy="199.24" r="1.35" fill="#a8102f"/>
<text x="331.60" y="174.85" font-size="12.655" textLength="6.02" lengthAdjust="spacingAndGlyphs" fill="#000"  stroke="#000" stroke-width="0.3">E</text>
<line x1="359.80" y1="178.80" x2="359.80" y2="284.90" stroke="#000" stroke-width="1.3" />
<line x1="359.20" y1="284.90" x2="511.80" y2="284.90" stroke="#000" stroke-width="1.3" />
<line x1="356.80" y1="284.90" x2="359.80" y2="284.90" stroke="#000" stroke-width="1" />
<text x="352.33" y="286.79" font-size="5.484" textLength="3.00" lengthAdjust="spacingAndGlyphs" fill="#222"  stroke="#222" stroke-width="0.12">0</text>
<line x1="356.80" y1="264.80" x2="359.80" y2="264.80" stroke="#000" stroke-width="1" />
<text x="349.17" y="266.69" font-size="5.484" textLength="6.16" lengthAdjust="spacingAndGlyphs" fill="#222"  stroke="#222" stroke-width="0.12">20</text>
<line x1="356.80" y1="244.70" x2="359.80" y2="244.70" stroke="#000" stroke-width="1" />
<text x="349.17" y="246.59" font-size="5.484" textLength="6.16" lengthAdjust="spacingAndGlyphs" fill="#222"  stroke="#222" stroke-width="0.12">40</text>
<line x1="356.80" y1="224.60" x2="359.80" y2="224.60" stroke="#000" stroke-width="1" />
<text x="349.17" y="226.49" font-size="5.484" textLength="6.16" lengthAdjust="spacingAndGlyphs" fill="#222"  stroke="#222" stroke-width="0.12">60</text>
<line x1="356.80" y1="204.50" x2="359.80" y2="204.50" stroke="#000" stroke-width="1" />
<text x="349.17" y="206.39" font-size="5.484" textLength="6.16" lengthAdjust="spacingAndGlyphs" fill="#222"  stroke="#222" stroke-width="0.12">80</text>
<line x1="356.80" y1="184.40" x2="359.80" y2="184.40" stroke="#000" stroke-width="1" />
<text x="346.00" y="186.29" font-size="5.484" textLength="9.30" lengthAdjust="spacingAndGlyphs" fill="#222"  stroke="#222" stroke-width="0.12">100</text>
<line x1="364.50" y1="282.40" x2="364.50" y2="284.90" stroke="#000" stroke-width="0.9" />
<line x1="359.37" y1="284.90" x2="359.37" y2="287.40" stroke="#000" stroke-width="0.9" />
<line x1="374.77" y1="282.40" x2="374.77" y2="284.90" stroke="#000" stroke-width="0.9" />
<line x1="369.64" y1="284.90" x2="369.64" y2="287.40" stroke="#000" stroke-width="0.9" />
<line x1="385.04" y1="282.40" x2="385.04" y2="284.90" stroke="#000" stroke-width="0.9" />
<line x1="379.91" y1="284.90" x2="379.91" y2="287.40" stroke="#000" stroke-width="0.9" />
<line x1="395.31" y1="282.40" x2="395.31" y2="284.90" stroke="#000" stroke-width="0.9" />
<line x1="390.18" y1="284.90" x2="390.18" y2="287.40" stroke="#000" stroke-width="0.9" />
<line x1="405.58" y1="282.40" x2="405.58" y2="284.90" stroke="#000" stroke-width="0.9" />
<line x1="400.45" y1="284.90" x2="400.45" y2="287.40" stroke="#000" stroke-width="0.9" />
<line x1="415.85" y1="282.40" x2="415.85" y2="284.90" stroke="#000" stroke-width="0.9" />
<line x1="410.72" y1="284.90" x2="410.72" y2="287.40" stroke="#000" stroke-width="0.9" />
<line x1="426.12" y1="282.40" x2="426.12" y2="284.90" stroke="#000" stroke-width="0.9" />
<line x1="420.99" y1="284.90" x2="420.99" y2="287.40" stroke="#000" stroke-width="0.9" />
<line x1="436.39" y1="282.40" x2="436.39" y2="284.90" stroke="#000" stroke-width="0.9" />
<line x1="431.26" y1="284.90" x2="431.26" y2="287.40" stroke="#000" stroke-width="0.9" />
<line x1="446.66" y1="282.40" x2="446.66" y2="284.90" stroke="#000" stroke-width="0.9" />
<line x1="441.53" y1="284.90" x2="441.53" y2="287.40" stroke="#000" stroke-width="0.9" />
<line x1="456.93" y1="282.40" x2="456.93" y2="284.90" stroke="#000" stroke-width="0.9" />
<line x1="451.80" y1="284.90" x2="451.80" y2="287.40" stroke="#000" stroke-width="0.9" />
<line x1="467.20" y1="282.40" x2="467.20" y2="284.90" stroke="#000" stroke-width="0.9" />
<line x1="462.07" y1="284.90" x2="462.07" y2="287.40" stroke="#000" stroke-width="0.9" />
<line x1="477.47" y1="282.40" x2="477.47" y2="284.90" stroke="#000" stroke-width="0.9" />
<line x1="472.34" y1="284.90" x2="472.34" y2="287.40" stroke="#000" stroke-width="0.9" />
<line x1="487.74" y1="282.40" x2="487.74" y2="284.90" stroke="#000" stroke-width="0.9" />
<line x1="482.61" y1="284.90" x2="482.61" y2="287.40" stroke="#000" stroke-width="0.9" />
<line x1="498.01" y1="282.40" x2="498.01" y2="284.90" stroke="#000" stroke-width="0.9" />
<line x1="492.88" y1="284.90" x2="492.88" y2="287.40" stroke="#000" stroke-width="0.9" />
<line x1="508.28" y1="282.40" x2="508.28" y2="284.90" stroke="#000" stroke-width="0.9" />
<line x1="503.15" y1="284.90" x2="503.15" y2="287.40" stroke="#000" stroke-width="0.9" />
<line x1="513.41" y1="284.90" x2="513.41" y2="287.40" stroke="#000" stroke-width="0.9" />
<text x="362.99" y="296.69" font-size="5.484" textLength="3.00" lengthAdjust="spacingAndGlyphs" fill="#222"  stroke="#222" stroke-width="0.12">0</text>
<text x="383.52" y="296.74" font-size="5.563" textLength="3.04" lengthAdjust="spacingAndGlyphs" fill="#222"  stroke="#222" stroke-width="0.12">2</text>
<text x="404.05" y="296.74" font-size="5.644" textLength="3.10" lengthAdjust="spacingAndGlyphs" fill="#222"  stroke="#222" stroke-width="0.12">4</text>
<text x="424.60" y="296.68" font-size="5.563" textLength="3.05" lengthAdjust="spacingAndGlyphs" fill="#222"  stroke="#222" stroke-width="0.12">5</text>
<text x="445.14" y="296.69" font-size="5.484" textLength="3.00" lengthAdjust="spacingAndGlyphs" fill="#222"  stroke="#222" stroke-width="0.12">6</text>
<text x="465.66" y="296.74" font-size="5.644" textLength="3.09" lengthAdjust="spacingAndGlyphs" fill="#222"  stroke="#222" stroke-width="0.12">7</text>
<text x="486.24" y="296.69" font-size="5.484" textLength="3.00" lengthAdjust="spacingAndGlyphs" fill="#222"  stroke="#222" stroke-width="0.12">8</text>
<text x="505.11" y="296.69" font-size="5.484" textLength="6.16" lengthAdjust="spacingAndGlyphs" fill="#222"  stroke="#222" stroke-width="0.12">10</text>
<text transform="translate(335.68,248.90) rotate(-90)" x="0" y="0" font-size="8.043" textLength="40.81" lengthAdjust="spacingAndGlyphs" fill="#000"  stroke="#000" stroke-width="0.1">% hemolysis</text>
<text x="386.23" y="309.14" font-size="8.257" textLength="98.93" lengthAdjust="spacingAndGlyphs" fill="#000"  stroke="#000" stroke-width="0.1">Concentration of NaCl (g/l)</text>
<polyline points="364.50,184.40 374.77,184.40 385.04,186.91 395.31,189.93 405.58,196.86 415.85,197.67 426.12,193.44 436.39,192.44 446.66,192.44 456.93,194.45 467.20,196.46 477.47,218.57 487.74,264.80 498.01,283.39 508.28,280.88" fill="none" stroke="#6cbd45" stroke-width="1.1" />
<circle cx="364.50" cy="184.40" r="1.25" fill="#6cbd45"/>
<circle cx="374.77" cy="184.40" r="1.25" fill="#6cbd45"/>
<circle cx="385.04" cy="186.91" r="1.25" fill="#6cbd45"/>
<circle cx="395.31" cy="189.93" r="1.25" fill="#6cbd45"/>
<circle cx="405.58" cy="196.86" r="1.25" fill="#6cbd45"/>
<circle cx="415.85" cy="197.67" r="1.25" fill="#6cbd45"/>
<circle cx="426.12" cy="193.44" r="1.25" fill="#6cbd45"/>
<circle cx="436.39" cy="192.44" r="1.25" fill="#6cbd45"/>
<circle cx="446.66" cy="192.44" r="1.25" fill="#6cbd45"/>
<circle cx="456.93" cy="194.45" r="1.25" fill="#6cbd45"/>
<circle cx="467.20" cy="196.46" r="1.25" fill="#6cbd45"/>
<circle cx="477.47" cy="218.57" r="1.25" fill="#6cbd45"/>
<circle cx="487.74" cy="264.80" r="1.25" fill="#6cbd45"/>
<circle cx="498.01" cy="283.39" r="1.25" fill="#6cbd45"/>
<circle cx="508.28" cy="280.88" r="1.25" fill="#6cbd45"/>
<polyline points="364.50,211.53 374.77,195.96 385.04,204.10 395.31,197.67 405.58,197.26 415.85,197.26 426.12,244.30 436.39,268.82 446.66,277.86 456.93,277.36 467.20,276.86 477.47,277.36 487.74,275.35 498.01,274.85 508.28,273.84" fill="none" stroke="#6cbd45" stroke-width="1.0" stroke-dasharray="3,1.2,0.8,1.2"/>
<circle cx="364.50" cy="211.53" r="1.25" fill="#6cbd45"/>
<circle cx="374.77" cy="195.96" r="1.25" fill="#6cbd45"/>
<circle cx="385.04" cy="204.10" r="1.25" fill="#6cbd45"/>
<circle cx="395.31" cy="197.67" r="1.25" fill="#6cbd45"/>
<circle cx="405.58" cy="197.26" r="1.25" fill="#6cbd45"/>
<circle cx="415.85" cy="197.26" r="1.25" fill="#6cbd45"/>
<circle cx="426.12" cy="244.30" r="1.25" fill="#6cbd45"/>
<circle cx="436.39" cy="268.82" r="1.25" fill="#6cbd45"/>
<circle cx="446.66" cy="277.86" r="1.25" fill="#6cbd45"/>
<circle cx="456.93" cy="277.36" r="1.25" fill="#6cbd45"/>
<circle cx="467.20" cy="276.86" r="1.25" fill="#6cbd45"/>
<circle cx="477.47" cy="277.36" r="1.25" fill="#6cbd45"/>
<circle cx="487.74" cy="275.35" r="1.25" fill="#6cbd45"/>
<circle cx="498.01" cy="274.85" r="1.25" fill="#6cbd45"/>
<circle cx="508.28" cy="273.84" r="1.25" fill="#6cbd45"/>
<polyline points="364.50,200.98 374.77,203.50 385.04,194.85 395.31,197.26 405.58,197.67 415.85,202.59 426.12,224.60 436.39,271.83 446.66,277.86 456.93,276.86 467.20,277.36 477.47,278.87 487.74,272.84 498.01,272.84 508.28,270.83" fill="none" stroke="#30529b" stroke-width="1.1" stroke-dasharray="2.5,1.3"/>
<circle cx="364.50" cy="200.98" r="1.1" fill="#fff" stroke="#30529b" stroke-width="0.7"/>
<circle cx="374.77" cy="203.50" r="1.1" fill="#fff" stroke="#30529b" stroke-width="0.7"/>
<circle cx="385.04" cy="194.85" r="1.1" fill="#fff" stroke="#30529b" stroke-width="0.7"/>
<circle cx="395.31" cy="197.26" r="1.1" fill="#fff" stroke="#30529b" stroke-width="0.7"/>
<circle cx="405.58" cy="197.67" r="1.1" fill="#fff" stroke="#30529b" stroke-width="0.7"/>
<circle cx="415.85" cy="202.59" r="1.1" fill="#fff" stroke="#30529b" stroke-width="0.7"/>
<circle cx="426.12" cy="224.60" r="1.1" fill="#fff" stroke="#30529b" stroke-width="0.7"/>
<circle cx="436.39" cy="271.83" r="1.1" fill="#fff" stroke="#30529b" stroke-width="0.7"/>
<circle cx="446.66" cy="277.86" r="1.1" fill="#fff" stroke="#30529b" stroke-width="0.7"/>
<circle cx="456.93" cy="276.86" r="1.1" fill="#fff" stroke="#30529b" stroke-width="0.7"/>
<circle cx="467.20" cy="277.36" r="1.1" fill="#fff" stroke="#30529b" stroke-width="0.7"/>
<circle cx="477.47" cy="278.87" r="1.1" fill="#fff" stroke="#30529b" stroke-width="0.7"/>
<circle cx="487.74" cy="272.84" r="1.1" fill="#fff" stroke="#30529b" stroke-width="0.7"/>
<circle cx="498.01" cy="272.84" r="1.1" fill="#fff" stroke="#30529b" stroke-width="0.7"/>
<circle cx="508.28" cy="270.83" r="1.1" fill="#fff" stroke="#30529b" stroke-width="0.7"/>
<polyline points="364.50,200.98 374.77,191.94 385.04,190.43 395.31,186.41 405.58,189.43 415.85,197.47 426.12,221.59 436.39,265.81 446.66,277.86 456.93,277.86 467.20,267.81 477.47,278.87 487.74,266.81 498.01,266.31 508.28,266.31" fill="none" stroke="#5c2d86" stroke-width="1.1" stroke-dasharray="3,1.5"/>
<circle cx="364.50" cy="200.98" r="1.25" fill="#5c2d86"/>
<circle cx="374.77" cy="191.94" r="1.25" fill="#5c2d86"/>
<circle cx="385.04" cy="190.43" r="1.25" fill="#5c2d86"/>
<circle cx="395.31" cy="186.41" r="1.25" fill="#5c2d86"/>
<circle cx="405.58" cy="189.43" r="1.25" fill="#5c2d86"/>
<circle cx="415.85" cy="197.47" r="1.25" fill="#5c2d86"/>
<circle cx="426.12" cy="221.59" r="1.25" fill="#5c2d86"/>
<circle cx="436.39" cy="265.81" r="1.25" fill="#5c2d86"/>
<circle cx="446.66" cy="277.86" r="1.25" fill="#5c2d86"/>
<circle cx="456.93" cy="277.86" r="1.25" fill="#5c2d86"/>
<circle cx="467.20" cy="267.81" r="1.25" fill="#5c2d86"/>
<circle cx="477.47" cy="278.87" r="1.25" fill="#5c2d86"/>
<circle cx="487.74" cy="266.81" r="1.25" fill="#5c2d86"/>
<circle cx="498.01" cy="266.31" r="1.25" fill="#5c2d86"/>
<circle cx="508.28" cy="266.31" r="1.25" fill="#5c2d86"/>
<polyline points="364.50,184.40 374.77,186.91 385.04,181.38 395.31,185.81 405.58,183.70 415.85,195.15 426.12,208.52 436.39,263.79 446.66,277.86 456.93,278.37 467.20,278.87 477.47,280.38 487.74,275.35 498.01,275.35 508.28,274.85" fill="none" stroke="#b5163c" stroke-width="1.1" />
<circle cx="364.50" cy="184.40" r="1.25" fill="#b5163c"/>
<circle cx="374.77" cy="186.91" r="1.25" fill="#b5163c"/>
<circle cx="385.04" cy="181.38" r="1.25" fill="#b5163c"/>
<circle cx="395.31" cy="185.81" r="1.25" fill="#b5163c"/>
<circle cx="405.58" cy="183.70" r="1.25" fill="#b5163c"/>
<circle cx="415.85" cy="195.15" r="1.25" fill="#b5163c"/>
<circle cx="426.12" cy="208.52" r="1.25" fill="#b5163c"/>
<circle cx="436.39" cy="263.79" r="1.25" fill="#b5163c"/>
<circle cx="446.66" cy="277.86" r="1.25" fill="#b5163c"/>
<circle cx="456.93" cy="278.37" r="1.25" fill="#b5163c"/>
<circle cx="467.20" cy="278.87" r="1.25" fill="#b5163c"/>
<circle cx="477.47" cy="280.38" r="1.25" fill="#b5163c"/>
<circle cx="487.74" cy="275.35" r="1.25" fill="#b5163c"/>
<circle cx="498.01" cy="275.35" r="1.25" fill="#b5163c"/>
<circle cx="508.28" cy="274.85" r="1.25" fill="#b5163c"/>
<line x1="362.40" y1="251.90" x2="371.00" y2="251.90" stroke="#5c2d86" stroke-width="1.1" stroke-dasharray="2.6,1"/>
<circle cx="366.8" cy="251.9" r="1.35" fill="#5c2d86"/>
<text x="375.75" y="253.87" font-size="4.871" textLength="43.99" lengthAdjust="spacingAndGlyphs" fill="#222"  stroke="#222" stroke-width="0.12">RBC/DIAM (300μM)</text>
<line x1="362.40" y1="258.60" x2="371.00" y2="258.60" stroke="#6cbd45" stroke-width="1.1" stroke-dasharray="2.6,1"/>
<circle cx="366.8" cy="258.6" r="1.35" fill="#6cbd45"/>
<text x="375.75" y="260.57" font-size="4.871" textLength="43.99" lengthAdjust="spacingAndGlyphs" fill="#222"  stroke="#222" stroke-width="0.12">RBC/DIAM (125μM)</text>
<line x1="362.40" y1="265.60" x2="371.00" y2="265.60" stroke="#30529b" stroke-width="1.1" stroke-dasharray="2.2,1"/>
<circle cx="366.8" cy="265.6" r="1.5" fill="#fff" stroke="#30529b" stroke-width="0.7"/>
<text x="375.76" y="267.57" font-size="5.300" textLength="40.47" lengthAdjust="spacingAndGlyphs" fill="#222"  stroke="#222" stroke-width="0.12">RBC/DIAM (10μM)</text>
<line x1="362.40" y1="272.40" x2="371.00" y2="272.40" stroke="#b5163c" stroke-width="1.1" />
<circle cx="366.8" cy="272.4" r="1.35" fill="#b5163c"/>
<text x="374.35" y="274.14" font-size="5.265" textLength="27.04" lengthAdjust="spacingAndGlyphs" fill="#222"  stroke="#222" stroke-width="0.12">RBC control</text>
<line x1="362.40" y1="278.80" x2="371.00" y2="278.80" stroke="#6cbd45" stroke-width="1.1" />
<circle cx="366.8" cy="278.8" r="1.35" fill="#6cbd45"/>
<text x="374.37" y="279.94" font-size="5.122" textLength="20.75" lengthAdjust="spacingAndGlyphs" fill="#222"  stroke="#222" stroke-width="0.12">RBC/LPC</text>
<rect x="0" y="0" width="520" height="1.45" fill="#000"/>
<rect x="0" y="0" width="1.2" height="318" fill="#000"/>
<rect x="518.5" y="0" width="1.5" height="318" fill="#000"/>
<rect x="0" y="316.2" width="520" height="1.8" fill="#000"/>
</svg>
</body></html>
